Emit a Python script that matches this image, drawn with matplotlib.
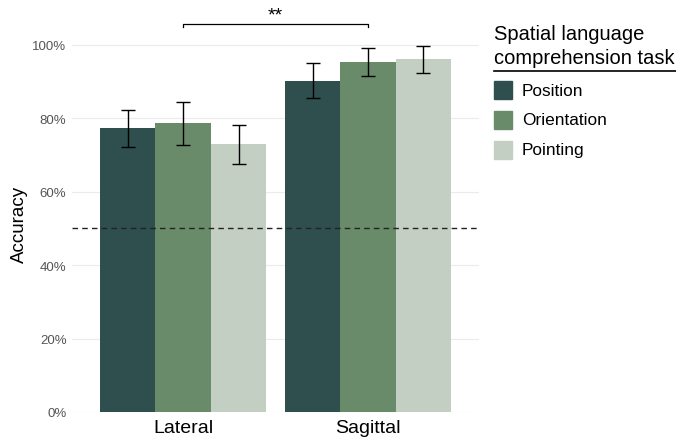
import matplotlib.pyplot as plt
import matplotlib.patches as mpatches
import matplotlib.lines as mlines
import numpy as np

plt.rcParams["font.family"] = ["Liberation Sans", "DejaVu Sans"]

groups = ["Lateral", "Sagittal"]
tasks = ["Position", "Orientation", "Pointing"]
colors = ["#2f4f4e", "#6a8b6a", "#c4cfc4"]

accuracy = {
    "Position": [0.774, 0.902],
    "Orientation": [0.786, 0.954],
    "Pointing": [0.729, 0.960],
}
err_low = {
    "Position": [0.722, 0.856],
    "Orientation": [0.728, 0.916],
    "Pointing": [0.676, 0.924],
}
err_high = {
    "Position": [0.823, 0.951],
    "Orientation": [0.845, 0.992],
    "Pointing": [0.782, 0.997],
}
chance = 0.5
sig_label = "**"

W, H = 676, 439
fig = plt.figure(figsize=(W / 100, H / 100), dpi=100)
# panel in pixel coords: x 72..479, y(0%)=413, y(107%)=20
ax = fig.add_axes([72 / W, (H - 413) / H, (479 - 72) / W, (413 - 20) / H])

x = np.arange(1, len(groups) + 1)
bw = 0.3
for i, t in enumerate(tasks):
    xs = x + (i - 1) * bw
    vals = np.array(accuracy[t])
    lo = vals - np.array(err_low[t])
    hi = np.array(err_high[t]) - vals
    ax.bar(xs, vals, width=bw, color=colors[i], edgecolor="none", zorder=2)
    ax.errorbar(xs, vals, yerr=[lo, hi], fmt="none", ecolor="black",
                elinewidth=1.0, capsize=5, capthick=1.0, zorder=3)

ax.axhline(chance, color="#222222", linestyle=(0, (4, 3)), linewidth=1.0, zorder=4)

# significance bracket between group centres
yb, tick = 1.057, 0.009
ax.plot([x[0], x[0], x[1], x[1]], [yb - tick, yb, yb, yb - tick],
        color="black", linewidth=0.9, clip_on=False)
ax.text(x.mean(), yb + 0.002, sig_label, ha="center", va="bottom", fontsize=14)

ax.set_xlim(0.4, 2.6)
ax.set_ylim(0, 1.07)
ax.set_yticks(np.arange(0, 1.01, 0.2))
ax.set_yticklabels([f"{int(round(v * 100))}%" for v in np.arange(0, 1.01, 0.2)])
ax.set_xticks(x)
ax.set_xticklabels(groups, fontsize=14, color="black")
ax.tick_params(axis="y", labelsize=9.5, labelcolor="#555555", length=0, pad=4)
ax.tick_params(axis="x", length=0, pad=5)
ax.grid(axis="y", color="#ebebeb", linewidth=0.8, zorder=0)
ax.set_axisbelow(True)
for s in ax.spines.values():
    s.set_visible(False)
ax.set_ylabel("Accuracy", fontsize=13.5)
ax.yaxis.set_label_coords((28 - 72) / (479 - 72), (413 - 224) / (413 - 20))

# legend drawn in figure pixel coordinates
def fy(py):
    return (H - py) / H

fig.text(494 / W, fy(35), "Spatial language", fontsize=14.5, va="center", ha="left")
fig.text(494 / W, fy(59), "comprehension task", fontsize=14.5, va="center", ha="left")
fig.add_artist(mlines.Line2D([494 / W, 676 / W], [fy(72), fy(72)],
                             color="black", linewidth=1.2))
for i, t in enumerate(tasks):
    cy = 91 + 30 * i
    fig.add_artist(mpatches.Rectangle((494 / W, fy(cy + 9)), 18 / W, 18 / H,
                                      color=colors[i], transform=fig.transFigure))
    fig.text(522 / W, fy(cy), t, fontsize=12.4, va="center", ha="left")

fig.savefig("out.png", dpi=100)
